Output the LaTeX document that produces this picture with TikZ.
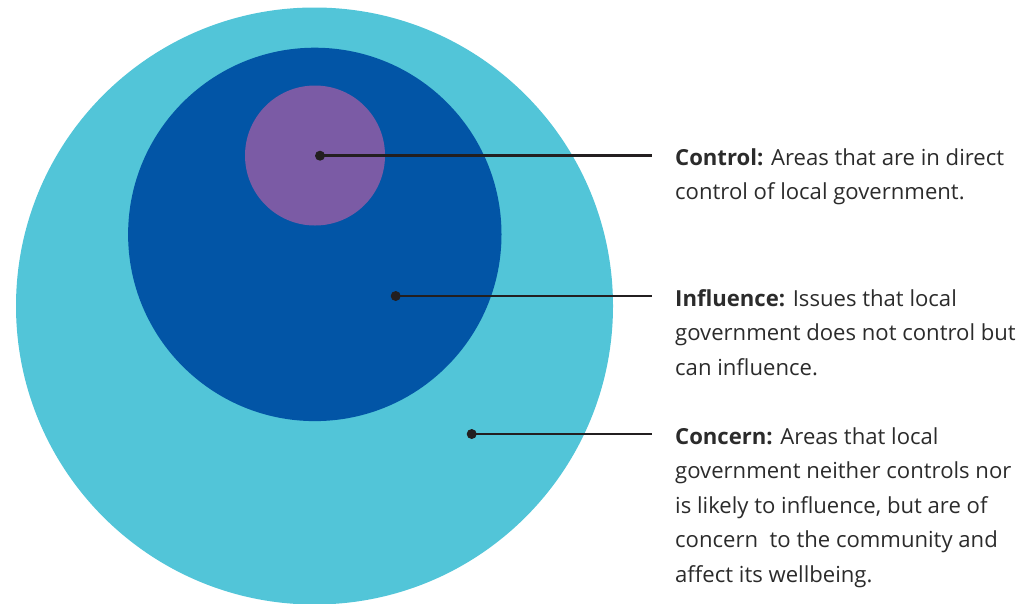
\documentclass[tikz,border=0pt]{standalone}
\usepackage{fontspec}
\setmainfont{Open Sans}
\definecolor{concernc}{HTML}{52C5D8}
\definecolor{influencec}{HTML}{0255A6}
\definecolor{controlc}{HTML}{7B5BA5}
\definecolor{inkc}{HTML}{231F20}
\definecolor{textc}{HTML}{2B2B2B}
\newcommand{\desctext}[1]{\parbox[t]{360pt}{\raggedright\fontsize{22.1}{34.5}\selectfont #1}}
\tikzset{
  dotmark/.style={circle, fill=inkc, inner sep=0pt, minimum size=10pt},
  leader/.style={draw=inkc, line width=2.5pt},
  desc/.style={anchor=base west, inner sep=0pt, text=textc}
}
\begin{document}
\begin{tikzpicture}[x=1pt,y=-1pt]
\useasboundingbox (0,0) rectangle (1024,603);
\fill[concernc] (314.5,306) circle (298.5);
\fill[influencec] (314.8,234.4) circle (186.7);
\fill[controlc] (315,155.5) circle (70);
\node[dotmark] (d1) at (320,155.7) {};
\node[dotmark] (d2) at (395.7,296) {};
\node[dotmark] (d3) at (471.7,434) {};
\coordinate (e1) at (652,155.7);
\coordinate (e2) at (652,296);
\coordinate (e3) at (652,434);
\draw[leader] (d1.center) -- (e1);
\draw[leader] (d2.center) -- (e2);
\draw[leader] (d3.center) -- (e3);
\node[desc] (t1) at (675,165) {\desctext{\textbf{Control:} Areas that are in direct\\control of local government.}};
\node[desc] (t2) at (675,306) {\desctext{\textbf{Influence:} Issues that local\\government does not control but\\can influence.}};
\node[desc] (t3) at (675,444) {\desctext{\textbf{Concern:} Areas that local\\government neither controls nor\\is likely to influence, but are of\\concern\ \ to the community and\\affect its wellbeing.}};
\end{tikzpicture}
\end{document}
